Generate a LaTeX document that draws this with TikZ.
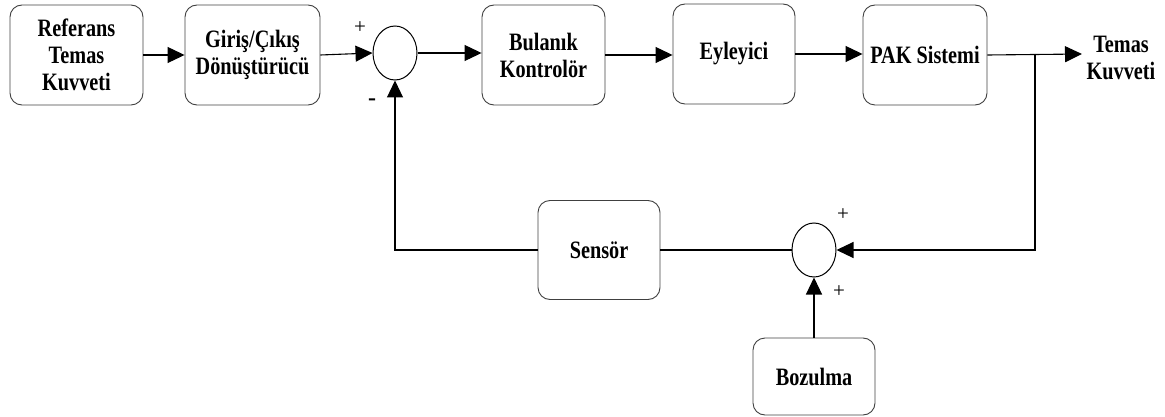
\documentclass[tikz,border=0pt]{standalone}
\usepackage{fontspec}
\setmainfont{Liberation Serif}
\newfontfamily\boxfont[FakeStretch=0.81]{Liberation Serif}
\usetikzlibrary{arrows.meta,shapes.geometric}

\begin{document}
\begin{tikzpicture}[x=1pt,y=-1pt]
        \tikzset{block/.style = {draw=black!75,line width=0.9pt,rounded corners=12pt,align=center,font=\boxfont\bfseries\fontsize{25}{27}\selectfont,inner sep=0pt}}
        \tikzset{sum/.style = {draw,ellipse,line width=1pt,minimum width=44pt,minimum height=54pt,inner sep=0pt}}
        \tikzset{edge/.style = {-{Triangle[length=17pt,width=16pt]},line width=1.1pt}}
        \tikzset{line/.style = {line width=1.1pt}}
        \tikzset{sign/.style = {font=\fontsize{21}{21}\selectfont,inner sep=0pt}}
        \useasboundingbox (0,0) rectangle (1165,417);
        % blocks
        \node[block,minimum width=133pt,minimum height=100pt] (ref) at (76.5,55) {Referans\\Temas\\Kuvveti};
        \node[block,minimum width=135pt,minimum height=100pt] (io) at (252.5,55) {Giriş/Çıkış\\Dönüştürücü};
        \node[sum] (sum1) at (395,53) {};
        \node[block,minimum width=123pt,minimum height=100pt] (fuzzy) at (543.5,55) {Bulanık\\Kontrolör};
        \node[block,minimum width=122pt,minimum height=100pt] (act) at (734,54) {Eyleyici};
        \node[block,minimum width=124pt,minimum height=100pt] (pak) at (925,55) {PAK Sistemi};
        \node[block,draw=none] (out) at (1121,58) {Temas\\Kuvveti};
        \coordinate (branch) at (1035,54);
        \node[block,minimum width=122pt,minimum height=99pt] (sensor) at (599,250) {Sensör};
        \node[sum] (sum2) at (814,250) {};
        \node[block,minimum width=122pt,minimum height=77pt] (dist) at (814,376.5) {Bozulma};
        % signs
        \node[sign] (p1) at (360,28) {+};
        \node[sign,font=\bfseries\fontsize{24}{24}\selectfont] (m1) at (372,102) {-};
        \node[sign] (p2) at (843,215) {+};
        \node[sign] (p3) at (839,292) {+};
        %edges
        \draw[edge] (ref.east) -- (ref.east -| io.west);
        \draw[edge] (io.east) -- (sum1.west);
        \draw[edge] (sum1.east) -- (sum1.east -| fuzzy.west);
        \draw[edge] (fuzzy.east) -- (fuzzy.east -| act.west);
        \draw[edge] (act.east) -- (act.east -| pak.west);
        \draw[edge] (pak.east) -- (1082,54);
        \draw[edge] (branch) |- (sum2.east);
        \draw[line] (sum2.west) -- (sensor.east);
        \draw[edge] (sensor.west) -| (sum1.south);
        \draw[edge] (dist.north) -- (sum2.south);

    \end{tikzpicture}
\end{document}
